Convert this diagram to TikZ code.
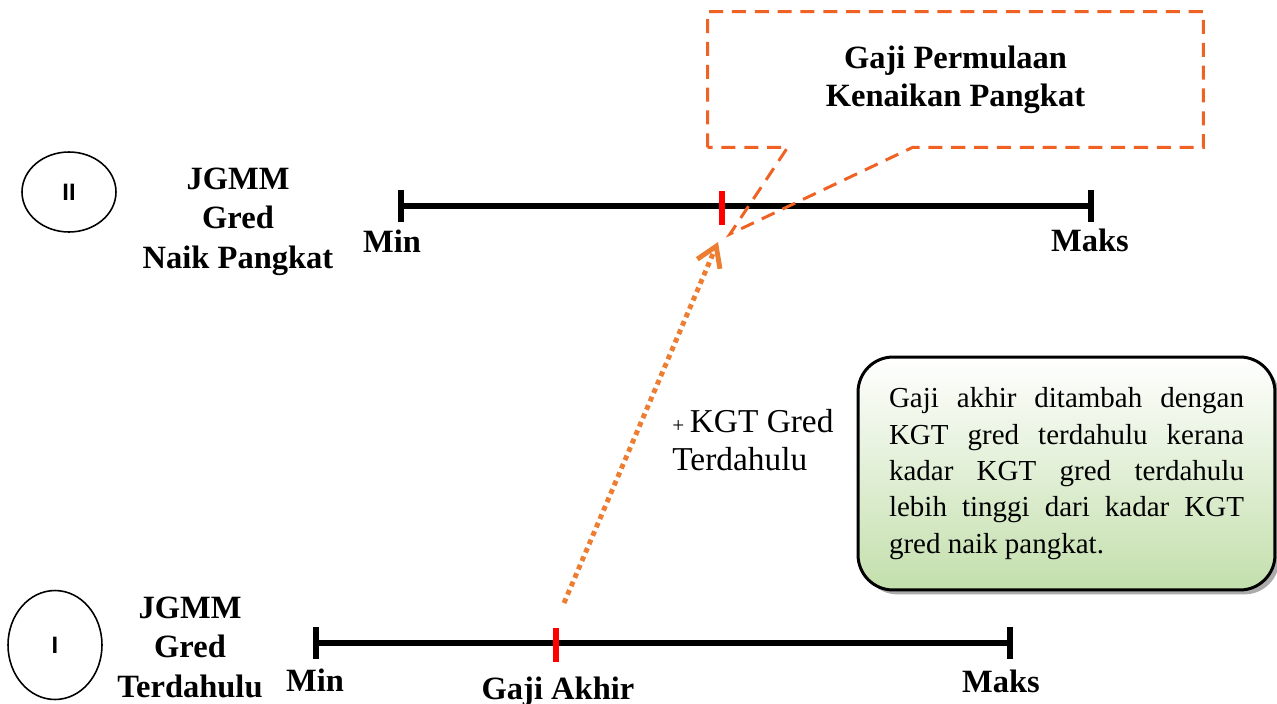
\documentclass[tikz,border=0pt]{standalone}
\usepackage{fontspec}
\setmainfont{Liberation Serif}
\newfontfamily\circlefont{Liberation Sans}
\usetikzlibrary{arrows.meta,shapes.geometric,shadows,calc}

\definecolor{calloutorange}{RGB}{240,98,35}
\definecolor{arroworange}{RGB}{237,125,49}
\definecolor{notegreen}{RGB}{195,223,172}

\tikzset{
  gradetitle/.style={font=\bfseries\fontsize{18.5}{22.4}\selectfont,align=center,inner sep=0,anchor=base},
  scaleend/.style={font=\bfseries\fontsize{18.5}{22.4}\selectfont,inner sep=0,anchor=base},
  gradecircle/.style={draw,ellipse,line width=0.9pt,inner sep=0,minimum width=1.88cm,font=\circlefont\bfseries\fontsize{13.5}{15}\selectfont},
  scaleline/.style={line width=3.4pt,{Bar[width=18pt]}-{Bar[width=18pt]}},
  redtick/.style={fill=red,inner sep=0,minimum width=3.4pt,minimum height=0.68cm},
  kgtarrow/.style={arroworange,line width=2.8pt,dash pattern=on 2.8pt off 2.4pt,-{Straight Barb[length=11pt,width=14pt]}},
  calloutline/.style={calloutorange,line width=1.7pt,dash pattern=on 8pt off 5pt},
  notebox/.style={draw,line width=1.7pt,rounded corners=0.7cm,top color=white,bottom color=notegreen,
    drop shadow={shadow xshift=2.5pt,shadow yshift=-2.5pt,fill=black!55,opacity=0.6},
    text width=7.1cm,inner xsep=0.62cm,minimum height=4.66cm,align=justify,
    font=\fontsize{16.5}{20.7}\selectfont}
}

\begin{document}
\begin{tikzpicture}[x=0.02cm,y=-0.02cm]
    \useasboundingbox (0, 0) rectangle (1277, 703);

    \node[gradecircle,minimum height=1.6cm](circII) at (69, 192) {II};
    \node[gradecircle,minimum height=2.18cm](circI) at (55, 645) {I};

    % base anchor sits on the last line
    \node[gradetitle](titleII) at (238, 268) {JGMM\\Gred\\Naik Pangkat};
    \node[gradetitle](titleI) at (190, 697) {JGMM\\Gred\\Terdahulu};

    \foreach \g/\y/\xmin/\xmax/\xmark in {II/206/398/1094/722, I/643/313/1013/556} {
      \coordinate (min\g) at (\xmin, \y);
      \coordinate (maks\g) at (\xmax, \y);
      \draw[scaleline] (min\g) -- (maks\g);
      \node[redtick](mark\g) at (\xmark, \y + 2) {};
    }

    \node[scaleend](minlabelII) at (392, 252) {Min};
    \node[scaleend](makslabelII) at (1090, 251) {Maks};
    \node[scaleend](minlabelI) at (315, 691) {Min};
    \node[scaleend](makslabelI) at (1001, 692) {Maks};
    \node[scaleend](akhirlabel) at (558, 699) {Gaji Akhir};

    % kenaikan dari gaji akhir
    \coordinate (kgtstart) at (564, 603);
    \coordinate (kgtend) at (718, 242);
    \draw[kgtarrow] (kgtstart) -- (kgtend);
    \node[anchor=base west,inner sep=0,align=left,font=\fontsize{19}{21.5}\selectfont](kgtlabel) at (672, 470) {{\fontsize{12}{12}\selectfont+}\,KGT Gred\\Terdahulu};

    % callout
    \node[font=\bfseries\fontsize{18.5}{21.5}\selectfont,align=center,inner sep=0,minimum width=9.9cm,minimum height=2.7cm](callout) at (955.5, 79.5) {Gaji Permulaan\\Kenaikan Pangkat};
    \coordinate (calloutpin) at (730, 234);
    \draw[calloutline] (callout.south west) -- (callout.north west) -- (callout.north east) -- (callout.south east)
      -- ($(callout.south west) + (205, 0)$) -- (calloutpin) -- ($(callout.south west) + (80, 0)$) -- cycle;

    \node[notebox](note) at (1066.5, 473.5) {Gaji akhir ditambah dengan\linebreak KGT gred terdahulu kerana\linebreak kadar KGT gred terdahulu\linebreak lebih tinggi dari kadar KGT\linebreak gred naik pangkat.};
  \end{tikzpicture}
\end{document}
